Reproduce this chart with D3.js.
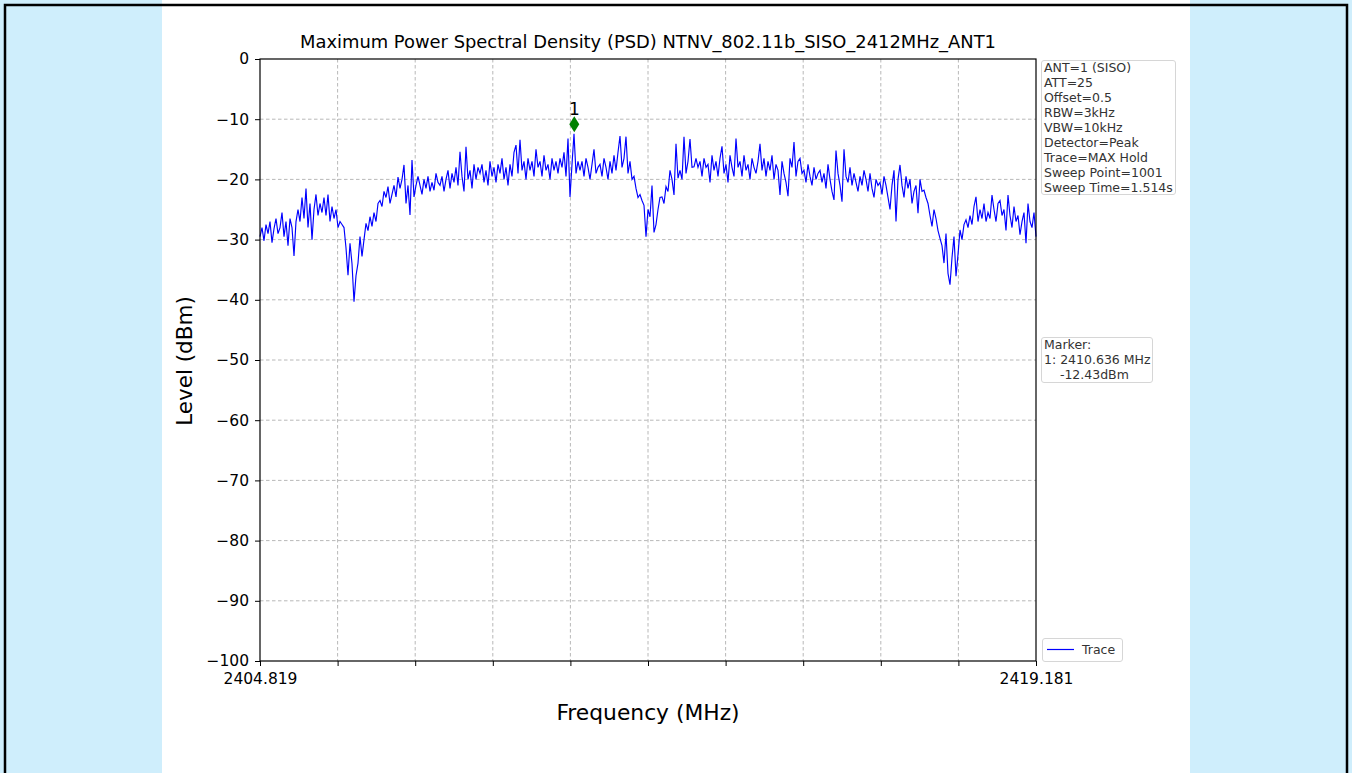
<!DOCTYPE html>
<html>
<head>
<meta charset="utf-8">
<script src="https://cdn.jsdelivr.net/npm/d3@7"></script>
<style>
  body { margin: 0; background: #cfeefc; }
  svg { display: block; font-family: "DejaVu Sans", sans-serif; }
</style>
</head>
<body>
<svg width="1352" height="773"></svg>
<script>
var startFreq = 2404.819, stopFreq = 2419.181
var levelTicks = [0, -10, -20, -30, -40, -50, -60, -70, -80, -90, -100]
var infoLines = ["ANT=1 (SISO)", "ATT=25", "Offset=0.5", "RBW=3kHz", "VBW=10kHz",
  "Detector=Peak", "Trace=MAX Hold", "Sweep Point=1001", "Sweep Time=1.514s"]
var markerLines = ["Marker:", "1: 2410.636 MHz", "    -12.43dBm"]
var markerFreq = 2410.636, markerLevel = -12.43

// trace levels (dBm), evenly spread over the sweep
var levels = [
  -29.5, -28, -30.2, -27.5, -29, -27, -30.5, -28.2, -26.5, -29,
  -28, -25.5, -29.5, -27, -31, -26.5, -28, -32.7, -27, -25,
  -27, -23, -26.5, -21.5, -28, -24, -30, -25, -22.5, -26,
  -24, -25.5, -23, -26, -22.5, -27, -24.5, -26.5, -25, -28,
  -27, -27.5, -28, -31.4, -35.9, -30.6, -34, -40.3, -36, -33.9,
  -29.5, -32.8, -30, -27.3, -28.5, -26.2, -27.8, -25.5, -27, -24,
  -23.5, -24.5, -22, -23, -21.2, -24, -22.5, -21, -22.9, -19.6,
  -21.5, -20, -17.6, -24, -21, -25.9, -16.8, -22.9, -21, -19.5,
  -21, -22.5, -20, -21.5, -19.5, -22, -20.5, -21.8, -19, -20.5,
  -21, -19.5, -22, -20, -18.5, -21.5, -19, -20.5, -18, -21,
  -15.4, -19.5, -22, -14.6, -20, -18.5, -21.5, -17.5, -20, -18,
  -19, -17.5, -20.5, -18.5, -21, -17, -19.5, -18, -20.5, -17.5,
  -19, -16.5, -20, -18, -21, -17.5, -19.5, -15.5, -14.3, -19,
  -13.4, -18.5, -17, -20, -16.5, -18.5, -17, -19.5, -15, -18,
  -17, -19.5, -16, -18.5, -17.5, -20, -16.5, -18.5, -17, -19,
  -16.5, -18, -15.5, -19.5, -13.2, -22.9, -17.5, -12.43, -19, -17,
  -18.5, -17, -19.5, -16.5, -18, -20, -17.5, -15, -19, -18,
  -17.5, -19.5, -16.5, -18, -20, -17, -19, -16, -18.5, -15.5,
  -12.8, -18, -16.5, -12.9, -19, -17, -20, -19.5, -21.5, -23,
  -22.5, -23.5, -24.3, -29.5, -25, -26.2, -21, -28.8, -27.5, -25,
  -23, -22.9, -24, -21.2, -22, -18.5, -20, -22.6, -14.1, -19.8,
  -18.5, -20, -12.9, -19, -17, -13.3, -18, -17.9, -16.5, -18,
  -17, -19.5, -16.5, -18, -17.5, -20.5, -16, -18.5, -17, -19.5,
  -16.5, -14.5, -19, -17.5, -20.5, -16, -18, -19.5, -13.2, -18,
  -17, -19.5, -16, -18.5, -17.5, -20, -16.5, -18, -19, -17,
  -14.1, -18.5, -16.5, -19.5, -17, -18.5, -16, -20, -17.5, -18.5,
  -22.6, -17, -19, -20.5, -22.8, -16.5, -18, -13.8, -19.5, -17,
  -16.5, -19, -18.5, -20.5, -17.5, -19.5, -21, -18, -20, -19,
  -18.5, -20.5, -19, -21.5, -17.5, -20, -22, -23.4, -15.2, -19,
  -21, -23.7, -15, -19.5, -20.5, -18, -21, -19, -20.5, -22,
  -19.5, -21, -18.5, -20, -22, -19, -21.5, -23, -20, -21,
  -20.5, -22.5, -19.5, -21, -23, -25, -21, -18.5, -27, -20,
  -17.6, -21, -23, -19.5, -21.5, -20, -24, -22, -21, -25.6,
  -20, -22, -21.8, -23, -24, -26, -27.8, -25, -26.5, -28.5,
  -29.8, -31, -33.9, -29, -35.6, -37.5, -33, -29.5, -36.1, -32.5,
  -28.4, -30, -27.5, -26.7, -28, -26, -27.5, -24.5, -22.9, -27,
  -25, -26.5, -24, -27, -25.5, -26.5, -22.6, -25, -27, -24,
  -23.5, -26, -25, -28.5, -22.6, -26, -28, -24.5, -27, -26,
  -29.2, -27, -25.5, -30.6, -24, -27, -28, -25.5, -29.5
]

var step = (stopFreq - startFreq) / (levels.length - 1)
var trace = levels.map(function(v, i) {
  return {f: startFreq + i * step, v: v}
})

var svg = d3.select('svg')

// page frame
svg.append('rect').attr('x', 162).attr('y', 0).attr('width', 1028).attr('height', 773).attr('fill', '#fff')
svg.append('path').attr('d', 'M5,773V5H1347V773').attr('fill', 'none').attr('stroke', '#000').attr('stroke-width', 2.5)

var plotL = 260, plotR = 1036, plotT = 59, plotB = 661

var x = d3.scaleLinear().domain([startFreq, stopFreq]).range([plotL, plotR])
var y = d3.scaleLinear().domain([-100, 0]).range([plotB, plotT])

var xTicks = d3.range(11).map(function(i) { return startFreq + i * (stopFreq - startFreq) / 10 })

// grid
var grid = svg.append('g').attr('stroke', '#a6a6a6').attr('stroke-width', 0.8).attr('stroke-dasharray', '3.5,2.5')
grid.selectAll('.gx').data(xTicks.slice(1, -1)).join('line')
  .attr('x1', function(d) { return x(d) }).attr('x2', function(d) { return x(d) })
  .attr('y1', plotT).attr('y2', plotB)
grid.selectAll('.gy').data(levelTicks.slice(1, -1)).join('line')
  .attr('y1', function(d) { return y(d) }).attr('y2', function(d) { return y(d) })
  .attr('x1', plotL).attr('x2', plotR)

// trace
var line = d3.line()
  .x(function(d) { return x(d.f) })
  .y(function(d) { return y(d.v) })
svg.append('path').datum(trace)
  .attr('d', line)
  .attr('fill', 'none')
  .attr('stroke', '#0000ff')
  .attr('stroke-width', 1.15)

// marker
var mx = x(markerFreq), my = y(markerLevel + 1.6)
svg.append('path')
  .attr('d', 'M' + mx + ',' + (my - 8) + 'L' + (mx + 5) + ',' + my + 'L' + mx + ',' + (my + 8) + 'L' + (mx - 5) + ',' + my + 'Z')
  .attr('fill', '#008000')
svg.append('text').attr('x', mx).attr('y', my - 9).attr('text-anchor', 'middle')
  .attr('font-size', 17).text('1')

// axes
var xAxis = d3.axisBottom(x).tickValues(xTicks).tickSize(5).tickPadding(7)
  .tickFormat(function(d, i) { return (i == 0 || i == 10) ? d3.format('.3f')(d) : '' })
var gx = svg.append('g').attr('transform', 'translate(0,' + plotB + ')').call(xAxis)

var yAxis = d3.axisLeft(y).tickValues(levelTicks).tickSize(5).tickPadding(6)
  .tickFormat(function(d) { return d < 0 ? '\u2212' + Math.abs(d) : d })
var gy = svg.append('g').attr('transform', 'translate(' + plotL + ',0)').call(yAxis)

svg.selectAll('.tick text').attr('font-size', 15.5).attr('font-family', 'DejaVu Sans').attr('fill', '#000')
svg.selectAll('.domain').remove()
svg.selectAll('.tick line').attr('stroke', '#000').attr('stroke-width', 1)
svg.append('rect').attr('x', plotL).attr('y', plotT).attr('width', plotR - plotL).attr('height', plotB - plotT)
  .attr('fill', 'none').attr('stroke', '#000').attr('stroke-width', 1.2)

// titles
svg.append('text').attr('x', 648).attr('y', 48).attr('text-anchor', 'middle')
  .attr('font-size', 17.9).text('Maximum Power Spectral Density (PSD) NTNV_802.11b_SISO_2412MHz_ANT1')
svg.append('text').attr('x', 648).attr('y', 720).attr('text-anchor', 'middle')
  .attr('font-size', 21.8).text('Frequency (MHz)')
svg.append('text').attr('transform', 'translate(192,361) rotate(-90)').attr('text-anchor', 'middle')
  .attr('font-size', 21.5).text('Level (dBm)')

// side boxes
function box(x0, y0, w, h) {
  svg.append('rect').attr('x', x0).attr('y', y0).attr('width', w).attr('height', h)
    .attr('rx', 2.5).attr('fill', '#fff').attr('stroke', '#d6d6d6').attr('stroke-width', 1)
}
box(1041.5, 60.5, 134, 134)
svg.append('g').selectAll('text').data(infoLines).join('text')
  .attr('x', 1044).attr('y', function(d, i) { return 72 + i * 15 })
  .attr('font-size', 12.5).attr('fill', '#333').text(function(d) { return d })

box(1041.5, 337.5, 111, 45)
svg.append('g').selectAll('text').data(markerLines).join('text')
  .attr('x', 1044).attr('y', function(d, i) { return 349 + i * 15 })
  .attr('font-size', 12.5).attr('fill', '#333').style('white-space', 'pre').text(function(d) { return d })

box(1042.5, 638.5, 80, 23)
svg.append('line').attr('x1', 1047).attr('x2', 1074).attr('y1', 649.5).attr('y2', 649.5)
  .attr('stroke', '#0000ff').attr('stroke-width', 1.2)
svg.append('text').attr('x', 1082).attr('y', 654).attr('font-size', 12.5).attr('fill', '#333').text('Trace')
</script>
</body>
</html>
